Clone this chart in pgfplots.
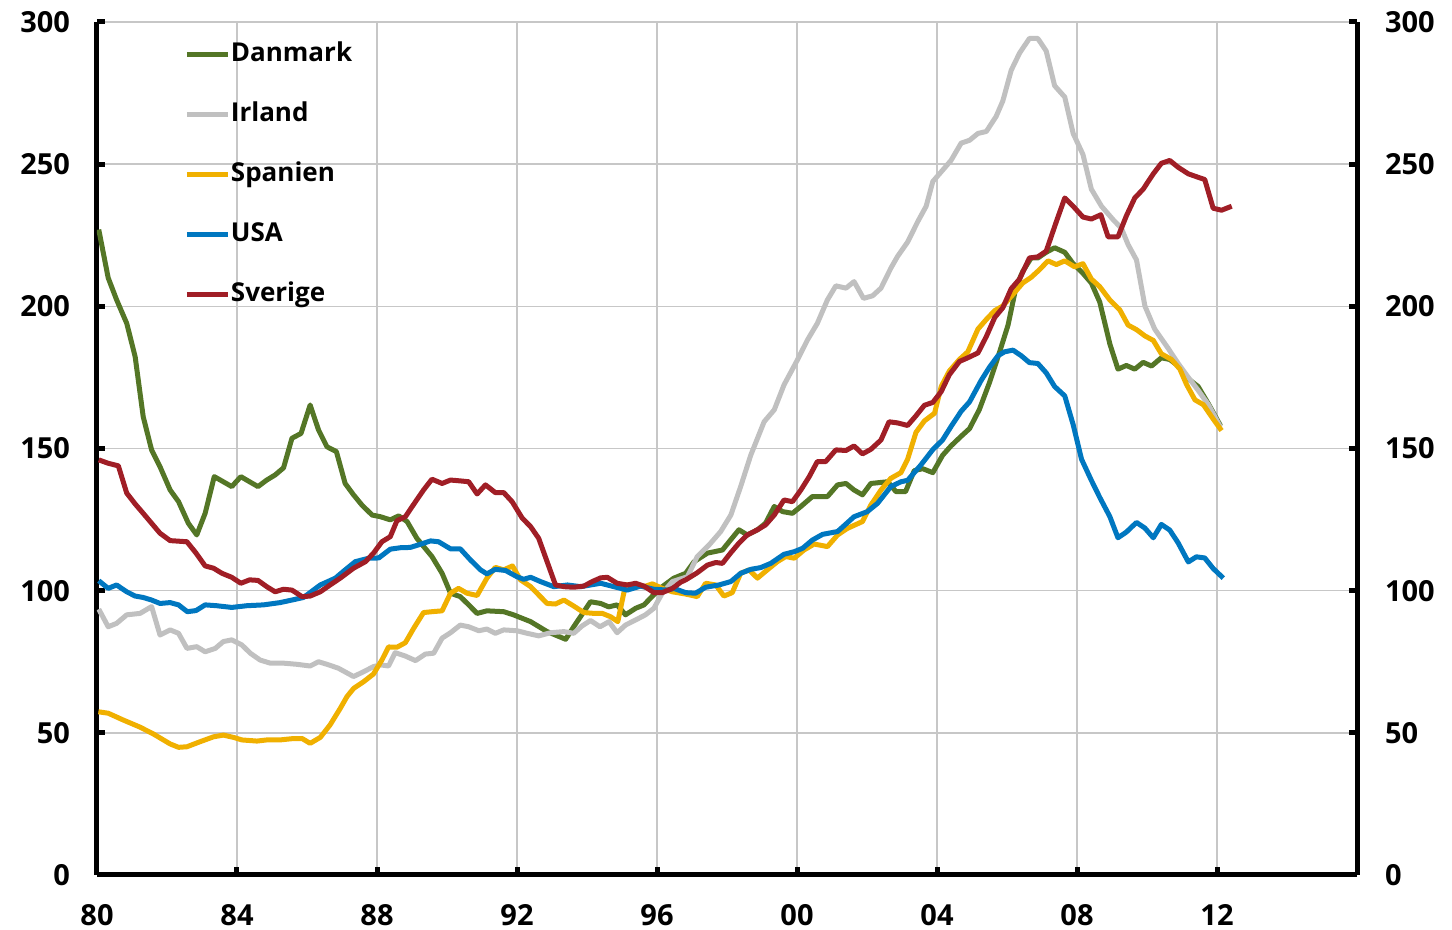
\documentclass[border=0pt]{standalone}
\usepackage{fontspec}
\setmainfont{Open Sans}
\usepackage{pgfplots}
\pgfplotsset{compat=1.18}
\definecolor{dk}{RGB}{84,118,38}
\definecolor{ie}{RGB}{192,192,192}
\definecolor{es}{RGB}{240,176,0}
\definecolor{us}{RGB}{0,119,192}
\definecolor{se}{RGB}{160,30,38}
\begin{document}
\begin{tikzpicture}
\path[use as bounding box] (-48.5pt,-27.5pt) rectangle (677.5pt,437.5pt);
\begin{axis}[
  at={(0,0)}, anchor=south west,
  scale only axis, width=630pt, height=426.5pt,
  xmin=80, xmax=116, ymin=0, ymax=300,
  xtick={80,84,...,112}, xticklabels={80,84,88,92,96,00,04,08,12},
  ytick={0,50,...,300},
  grid=major, major grid style={line width=0.75pt, color=black!22},
  axis x line*=bottom, axis y line*=box, yticklabel pos=left,
  axis line style={line width=2.5pt, black, -},
  tick align=inside, major tick length=4pt,
  every tick/.style={black, line width=2.5pt},
  /pgf/number format/assume math mode=true,
  tick label style={font=\fontsize{14.5}{17}\selectfont\bfseries},
  xticklabel style={yshift=-11pt},
  yticklabel style={xshift=-10pt},
  legend image code/.code={\draw[#1] (0pt,0pt) -- (20.5pt,0pt);},
  legend style={draw=none, fill=none, inner sep=0pt,
    at={(axis description cs:0.069,0.9765)}, anchor=north west,
    font=\fontsize{13}{15}\selectfont\bfseries,
    row sep=17.5pt,
    nodes={inner xsep=0.3pt, inner ysep=0pt, text height=9.5pt, text depth=3pt}},
  legend cell align=left,
  every axis plot/.append style={line width=2.5pt, line join=round},
]
\addplot[dk] coordinates {
(80.05,227)(80.32,210)(80.56,202.3)(80.85,194)(81.09,182.3)(81.32,161.2)(81.56,149.5)(81.8,143.6)
(82.09,135.4)(82.33,131.3)(82.61,123.7)(82.85,119.6)(83.09,127.2)(83.35,140.1)(83.61,138.3)(83.85,136.6)
(84.11,140.1)(84.36,138.3)(84.6,136.6)(84.85,138.9)(85.09,140.7)(85.33,143.2)(85.57,153.6)(85.83,155.3)
(86.09,165.3)(86.33,156.5)(86.57,150.6)(86.84,148.9)(87.09,137.7)(87.33,133.7)(87.57,130.1)(87.86,126.6)
(88.1,126)(88.38,124.9)(88.62,126.3)(88.86,124.3)(89.14,118.4)(89.57,112)(89.86,106.1)(90.1,99.1)
(90.38,97.9)(90.62,95)(90.86,92)(91.14,92.9)(91.62,92.6)(91.9,91.5)(92.39,89.1)(92.86,85.6)
(93.39,82.9)(93.62,87.3)(94.1,96.1)(94.39,95.5)(94.62,94.3)(94.86,95)(95.1,91.5)(95.39,93.8)
(95.63,95)(95.87,98.1)(96.15,101.4)(96.48,104.4)(96.82,106.1)(97.06,110.2)(97.44,113.2)(97.87,114.3)
(98.1,117.8)(98.34,121.4)(98.58,119.6)(98.87,121.4)(99.1,123.7)(99.35,129.6)(99.59,127.8)(99.87,127.2)
(100.11,129.6)(100.44,133.1)(100.87,133.1)(101.16,137.2)(101.4,137.7)(101.63,135.4)(101.87,133.7)(102.11,137.7)
(102.59,138.3)(102.83,134.8)(103.1,134.8)(103.35,142.2)(103.59,142.9)(103.88,141.5)(104.16,147.6)(104.4,150.9)
(104.69,154.3)(104.93,157)(105.21,163.7)(105.5,173.2)(105.79,184)(106.03,193.4)(106.26,206.9)(106.45,212.3)
(106.69,217)(106.88,217)(107.12,219)(107.36,220.6)(107.65,219)(107.89,215)(108.17,211.6)(108.41,208.2)
(108.65,201.5)(108.94,186.7)(109.17,177.9)(109.41,179.2)(109.65,177.9)(109.89,180.3)(110.13,179)(110.41,181.9)
(110.65,181.3)(110.94,178.6)(111.18,174.5)(111.46,171.8)(111.75,165.8)(112.1,158)
};
\addlegendentry{Danmark}
\addplot[ie] coordinates {
(80.05,93.5)(80.32,87.3)(80.56,88.5)(80.85,91.5)(81.23,92)(81.56,94.4)(81.8,84.4)(82.09,86.2)
(82.33,85)(82.57,79.7)(82.85,80.3)(83.09,78.5)(83.38,79.7)(83.61,82.1)(83.85,82.7)(84.14,80.9)
(84.38,78)(84.66,75.6)(84.95,74.5)(85.33,74.5)(85.71,74.1)(86.09,73.5)(86.33,75)(86.62,73.9)
(86.9,72.7)(87.33,69.8)(87.62,71.5)(87.9,73.3)(88.1,73.9)(88.33,73.5)(88.52,78.2)(88.81,77)
(89.1,75.4)(89.38,77.7)(89.62,78)(89.86,83.3)(90.1,85.2)(90.38,87.9)(90.62,87.3)(90.91,85.9)
(91.14,86.5)(91.38,85)(91.62,86.2)(92.0,85.9)(92.29,85)(92.62,84.1)(92.96,85.2)(93.34,85.6)
(93.62,85)(93.86,87.6)(94.1,89.5)(94.37,87.3)(94.63,89.1)(94.86,85.2)(95.1,87.9)(95.39,89.7)
(95.67,91.5)(95.91,93.8)(96.15,99.1)(96.44,103.2)(96.87,104.9)(97.15,112)(97.49,116.1)(97.82,120.8)
(98.11,126.6)(98.39,136.6)(98.68,147.7)(99.06,159.4)(99.35,163.6)(99.63,172.4)(100.01,181.1)(100.3,188.2)
(100.58,194)(100.87,202.3)(101.11,207.2)(101.4,206.4)(101.63,208.7)(101.9,202.8)(102.16,203.7)(102.4,206.4)
(102.68,213.4)(102.87,217.5)(103.16,222.6)(103.45,229.8)(103.69,235.2)(103.88,243.9)(104.12,247.3)(104.4,251.3)
(104.69,257.4)(104.93,258.4)(105.17,260.8)(105.41,261.5)(105.69,266.8)(105.88,272.2)(106.12,283)(106.36,289.1)
(106.64,294.2)(106.88,294.2)(107.12,289.8)(107.36,277.6)(107.65,273.6)(107.89,260.8)(108.17,253.4)(108.41,241.2)
(108.7,235.2)(109.03,230.5)(109.27,227.4)(109.46,221.7)(109.7,216.3)(109.94,200.1)(110.22,192)(110.6,185.3)
(110.89,179.9)(111.18,175)(111.46,170.5)(111.75,165.5)(112.1,157.5)
};
\addlegendentry{Irland}
\addplot[es] coordinates {
(80.04,57.4)(80.32,56.9)(80.75,54.5)(81.23,52)(81.61,49.6)(82.09,46.1)(82.33,44.9)(82.57,45.1)
(82.95,46.9)(83.33,48.6)(83.61,49.2)(83.9,48.4)(84.14,47.5)(84.57,47.1)(84.85,47.5)(85.23,47.5)
(85.62,48)(85.86,48)(86.09,46.3)(86.38,48.4)(86.66,52.8)(86.95,58.6)(87.14,62.7)(87.33,65.6)
(87.62,68)(87.9,70.7)(88.14,75.6)(88.33,80.2)(88.57,80.1)(88.81,81.7)(89.05,86.8)(89.33,92.3)
(89.57,92.6)(89.86,92.9)(90.1,99.1)(90.33,100.8)(90.57,99.1)(90.86,98.3)(91.14,104.4)(91.38,108.2)
(91.62,107.3)(91.87,108.7)(92.1,103.8)(92.39,101.4)(92.62,98.5)(92.86,95.5)(93.1,95.3)(93.34,96.7)
(93.62,94.6)(93.91,92.3)(94.2,92)(94.44,92)(94.68,90.8)(94.88,89.1)(95.1,102)(95.39,102)
(95.63,101.4)(95.87,102.4)(96.15,100.8)(96.44,99.6)(96.82,98.8)(97.15,97.9)(97.39,102.6)(97.68,102)
(97.91,98.1)(98.15,99.3)(98.39,106.1)(98.63,107.3)(98.87,104.4)(99.15,107.3)(99.44,110.2)(99.68,112)
(99.92,111.4)(100.2,114.3)(100.49,116.4)(100.87,115.5)(101.16,119.6)(101.44,121.9)(101.87,124.3)(102.11,130.1)
(102.4,135.4)(102.68,139.5)(102.97,141.5)(103.16,146.2)(103.4,155.7)(103.64,159.7)(103.93,162.4)(104.12,171.8)
(104.35,177.2)(104.64,181.3)(104.88,184)(105.17,192)(105.41,195.4)(105.65,198.5)(105.88,200.1)(106.17,204.2)
(106.45,208.2)(106.69,210.2)(106.93,212.9)(107.17,216)(107.41,214.7)(107.65,216)(107.93,213.9)(108.17,215)
(108.41,209.6)(108.65,206.9)(108.94,202.2)(109.22,198.8)(109.46,193.4)(109.7,191.8)(109.94,189.6)(110.18,188)
(110.41,183.3)(110.7,181.3)(110.94,177.9)(111.13,172.5)(111.37,167.1)(111.61,165.4)(111.89,160.4)(112.13,156.3)
};
\addlegendentry{Spanien}
\addplot[us] coordinates {
(80.05,103.5)(80.32,100.8)(80.56,102)(80.85,99.6)(81.09,98.1)(81.32,97.6)(81.56,96.7)(81.8,95.5)
(82.09,95.8)(82.33,95)(82.58,92.6)(82.83,93)(83.09,95)(83.42,94.7)(83.85,94.1)(84.28,94.7)
(84.76,95)(85.23,95.8)(85.57,96.7)(85.9,97.6)(86.38,102)(86.81,104.4)(87.09,107.3)(87.38,110.2)
(87.76,111.4)(88.05,111.5)(88.38,114.6)(88.67,115.1)(88.95,115.2)(89.24,116.3)(89.53,117.5)(89.76,117.2)
(90.1,114.7)(90.38,114.7)(90.67,110.8)(90.96,107.3)(91.14,105.9)(91.38,107.5)(91.67,107.1)(92.0,104.9)
(92.19,104)(92.39,104.7)(92.67,103.2)(93.05,101.4)(93.44,102)(93.82,101.4)(94.39,102.6)(94.77,101.4)
(95.15,100.2)(95.53,101.6)(95.91,100.5)(96.3,100.2)(96.48,100.8)(96.82,99.3)(97.1,99.1)(97.39,101.2)
(97.77,102)(98.11,103.2)(98.39,106.1)(98.68,107.5)(98.96,108.1)(99.25,109.6)(99.63,112.8)(99.92,113.7)
(100.16,114.9)(100.44,117.8)(100.73,119.8)(101.16,120.8)(101.63,126)(102.01,127.8)(102.3,130.7)(102.68,136.6)
(102.97,138.3)(103.16,138.8)(103.54,144.2)(103.88,149.6)(104.16,153)(104.4,157.7)(104.69,163.1)(104.93,166.4)
(105.26,173.9)(105.5,178.6)(105.74,182.6)(105.93,184)(106.17,184.6)(106.41,182.6)(106.64,180.2)(106.88,179.9)
(107.12,176.6)(107.36,171.8)(107.65,168.5)(107.89,158.4)(108.13,146.2)(108.41,138.8)(108.65,132.8)(108.94,126)
(109.17,118.6)(109.41,120.6)(109.7,124)(109.94,122)(110.18,118.6)(110.41,123.3)(110.65,121.3)(110.89,116.8)
(111.18,110.1)(111.41,111.9)(111.65,111.5)(111.89,107.8)(112.18,104.4)
};
\addlegendentry{USA}
\addplot[se] coordinates {
(80.05,146)(80.32,144.8)(80.61,143.9)(80.85,134.3)(81.09,130.5)(81.32,127.2)(81.56,123.7)(81.8,120.2)
(82.09,117.6)(82.57,117.2)(82.83,113.2)(83.09,108.7)(83.33,107.9)(83.57,106.1)(83.85,104.7)(84.11,102.6)
(84.36,103.8)(84.6,103.6)(84.85,101.4)(85.09,99.6)(85.33,100.5)(85.57,100.2)(85.86,97.9)(86.09,98.1)
(86.38,99.6)(86.66,102)(86.95,104.4)(87.33,107.9)(87.67,110.2)(87.9,113.2)(88.14,117.2)(88.38,119)
(88.57,124.6)(88.81,126)(89.1,131.3)(89.33,135.4)(89.57,139.2)(89.86,137.7)(90.1,138.9)(90.38,138.6)
(90.62,138.3)(90.86,134)(91.1,137.2)(91.38,134.5)(91.62,134.5)(91.86,131.3)(92.15,125.5)(92.39,122.5)
(92.62,118.4)(92.86,110.2)(93.1,102)(93.34,101.4)(93.62,101.2)(93.91,101.6)(94.15,103.2)(94.39,104.5)
(94.58,104.7)(94.86,102.6)(95.15,102)(95.39,102.6)(95.63,101.6)(95.91,99.3)(96.15,99.3)(96.44,100.8)
(96.68,103)(96.82,103.8)(97.15,106.3)(97.44,109)(97.68,109.9)(97.87,109.6)(98.1,113.2)(98.34,116.7)
(98.58,119.6)(98.87,121.4)(99.1,123.1)(99.35,126.6)(99.63,131.9)(99.87,131.3)(100.11,135.4)(100.35,140.1)
(100.58,145.4)(100.82,145.4)(101.11,149.5)(101.4,149.3)(101.63,150.9)(101.87,148.1)(102.11,149.7)(102.4,153)
(102.63,159.4)(102.87,159)(103.16,158.1)(103.4,161.5)(103.64,165.2)(103.88,166.2)(104.12,170)(104.35,175.9)
(104.64,180.6)(104.88,181.9)(105.17,183.6)(105.41,189.4)(105.65,196.1)(105.88,199.5)(106.12,206.2)(106.36,209.6)
(106.64,217)(106.88,217.4)(107.12,219.4)(107.41,229.8)(107.65,238.1)(107.89,235.2)(108.17,231.4)(108.41,230.7)
(108.68,232.2)(108.89,224.4)(109.17,224.4)(109.41,231.8)(109.65,238.1)(109.89,241.2)(110.18,246.6)(110.41,250.3)
(110.65,251.3)(110.89,248.9)(111.18,246.6)(111.41,245.6)(111.65,244.6)(111.89,234.5)(112.13,233.8)(112.42,235.2)
};
\addlegendentry{Sverige}
\end{axis}
\begin{axis}[
  at={(0,0)}, anchor=south west,
  scale only axis, width=630pt, height=426.5pt,
  xmin=80, xmax=116, ymin=0, ymax=300,
  axis x line=none, axis y line*=right,
  axis line style={draw=none},
  ytick={0,50,...,300}, major tick length=0pt,
  /pgf/number format/assume math mode=true,
  tick label style={font=\fontsize{14.5}{17}\selectfont\bfseries},
  yticklabel style={xshift=10.5pt},
]
\end{axis}
\end{tikzpicture}
\end{document}
